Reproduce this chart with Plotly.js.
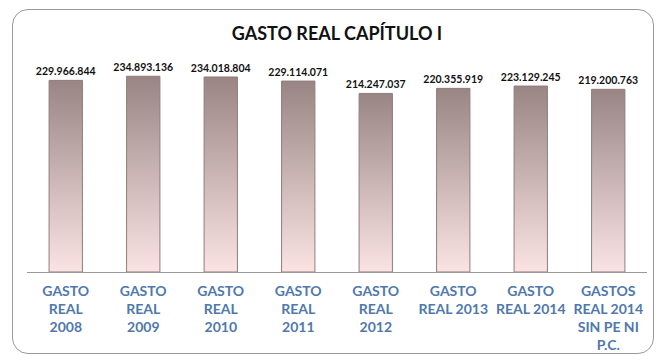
<!DOCTYPE html>
<html>
<head>
<meta charset="utf-8">
<script src="https://cdn.plot.ly/plotly-3.0.1.min.js"></script>
<style>
  html, body { margin: 0; padding: 0; background: #ffffff; }
  #wrap { position: relative; width: 656px; height: 356px; }
  #frame { position: absolute; left: 12px; top: 9px; width: 642px; height: 345px;
           border: 1px solid #9a9a9a; border-radius: 16px; box-sizing: border-box; }
  #chart { position: absolute; left: 0; top: 0; width: 656px; height: 356px; }
</style>
</head>
<body>
<div id="wrap">
  <div id="frame"></div>
  <div id="chart"></div>
</div>
<script>
const categories = [
  "GASTO<br>REAL<br>2008",
  "GASTO<br>REAL<br>2009",
  "GASTO<br>REAL<br>2010",
  "GASTO<br>REAL<br>2011",
  "GASTO<br>REAL<br>2012",
  "GASTO<br>REAL 2013",
  "GASTO<br>REAL 2014",
  "GASTOS<br>REAL 2014<br>SIN PE NI<br>P.C."
];
const values = [229966844, 234893136, 234018804, 229114071, 214247037, 220355919, 223129245, 219200763];
const valueLabels = ["229.966.844", "234.893.136", "234.018.804", "229.114.071", "214.247.037", "220.355.919", "223.129.245", "219.200.763"];
const titleText = "GASTO REAL CAPÍTULO I";

const trace = {
  type: "bar",
  x: categories,
  y: values,
  text: valueLabels,
  textposition: "outside",
  constraintext: "none",
  cliponaxis: false,
  textfont: { family: "Lato, 'Open Sans', sans-serif", size: 10.5, color: "#111111", weight: "bold" },
  marker: { color: "#c4acac", line: { color: "#8f7d7d", width: 1 } },
  hoverinfo: "none"
};

const layout = {
  width: 656, height: 356,
  margin: { l: 27, r: 9, t: 60, b: 84 },
  paper_bgcolor: "rgba(0,0,0,0)",
  plot_bgcolor: "rgba(0,0,0,0)",
  showlegend: false,
  bargap: 0.57,
  title: {
    text: "<b>" + titleText + "</b>",
    font: { family: "Lato, 'Open Sans', sans-serif", size: 18, color: "#111111" },
    x: 0.5, xanchor: "center", xref: "paper",
    y: 0.905, yanchor: "middle", yref: "container"
  },
  xaxis: {
    type: "category",
    showline: true, linecolor: "#9a9a9a", linewidth: 1,
    ticks: "", showgrid: false, zeroline: false,
    ticklabelstandoff: 6,
    tickfont: { family: "Lato, 'Open Sans', sans-serif", size: 14, color: "#4f78ad", weight: "bold" },
    fixedrange: true
  },
  yaxis: {
    range: [0, 254400000],
    visible: false, showgrid: false, zeroline: false, fixedrange: true
  }
};

Plotly.newPlot("chart", [trace], layout, { displayModeBar: false, staticPlot: true }).then(function (gd) {
  const svgNS = "http://www.w3.org/2000/svg";
  const svg = gd.querySelector("svg.main-svg");
  let defs = svg.querySelector("defs");
  if (!defs) { defs = document.createElementNS(svgNS, "defs"); svg.insertBefore(defs, svg.firstChild); }
  const grad = document.createElementNS(svgNS, "linearGradient");
  grad.setAttribute("id", "barGrad");
  grad.setAttribute("x1", "0"); grad.setAttribute("y1", "0");
  grad.setAttribute("x2", "0"); grad.setAttribute("y2", "1");
  [["0", "#9a8585"], ["0.45", "#c5b0b0"], ["1", "#fbe3e3"]].forEach(function (s) {
    const st = document.createElementNS(svgNS, "stop");
    st.setAttribute("offset", s[0]);
    st.setAttribute("stop-color", s[1]);
    grad.appendChild(st);
  });
  defs.appendChild(grad);
  gd.querySelectorAll(".bars .point path").forEach(function (p) {
    p.style.fill = "url(#barGrad)";
    p.style.fillOpacity = "1";
  });
});
</script>
</body>
</html>
